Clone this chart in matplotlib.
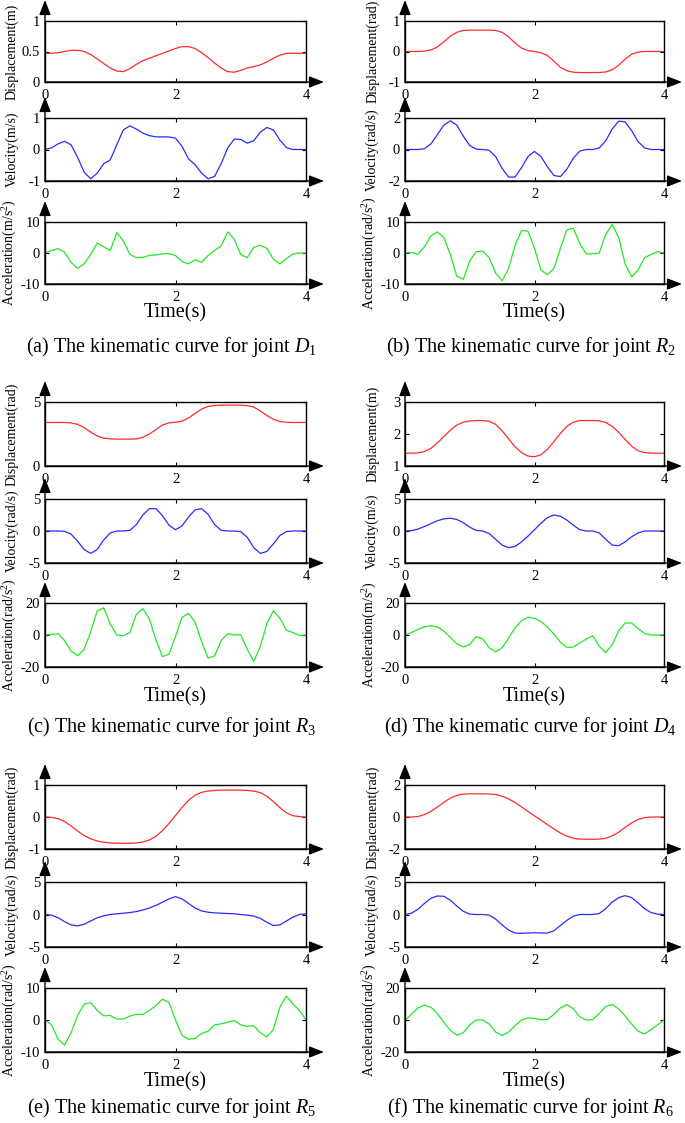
import numpy as np
import matplotlib
matplotlib.use("Agg")
import matplotlib.pyplot as plt

plt.rcParams['font.family'] = ['Liberation Serif', 'DejaVu Serif']
plt.rcParams['mathtext.fontset'] = 'custom'
plt.rcParams['mathtext.rm'] = 'Liberation Serif'
plt.rcParams['mathtext.it'] = 'Liberation Serif:italic'

# time samples (s), 0.1 s step
t = np.linspace(0, 4, 41)

# (a) joint D1
a_disp = [0.47, 0.47, 0.48, 0.50, 0.52, 0.52, 0.50, 0.45, 0.38, 0.30, 0.23, 0.18, 0.17, 0.22,
          0.29, 0.35, 0.39, 0.43, 0.47, 0.51, 0.55, 0.58, 0.58, 0.55, 0.48, 0.40, 0.31, 0.23,
          0.17, 0.16, 0.19, 0.23, 0.25, 0.28, 0.33, 0.39, 0.44, 0.47, 0.47, 0.47, 0.47]
a_vel = [0, 0.05, 0.18, 0.26, 0.15, -0.25, -0.72, -0.93, -0.75, -0.45, -0.33, 0.15, 0.62, 0.75,
         0.65, 0.52, 0.44, 0.40, 0.40, 0.40, 0.36, 0.10, -0.30, -0.48, -0.75, -0.93, -0.85,
         -0.45, 0.05, 0.33, 0.32, 0.20, 0.28, 0.55, 0.70, 0.62, 0.30, 0.06, 0, 0, 0]
a_acc = [0, 0.8, 1.4, 0.3, -3.0, -5.0, -3.5, -0.5, 3.2, 2.0, 0.8, 6.5, 4.0, -0.5, -1.5, -1.4,
         -0.8, -0.6, -0.3, -0.2, -0.8, -2.8, -3.5, -2.2, -3.0, -0.8, 0.8, 2.3, 6.8, 4.5, -0.5,
         -1.5, 1.8, 2.5, 1.5, -2.0, -3.5, -1.8, -0.3, 0, 0]

# (b) joint R2
b_disp = [0, 0, 0, 0.01, 0.05, 0.15, 0.32, 0.50, 0.63, 0.69, 0.70, 0.70, 0.70, 0.70, 0.69,
          0.63, 0.48, 0.28, 0.11, 0.03, 0, -0.04, -0.13, -0.32, -0.52, -0.63, -0.68, -0.69,
          -0.69, -0.69, -0.69, -0.67, -0.60, -0.45, -0.25, -0.09, -0.02, 0, 0, 0, 0]
b_vel = [0, 0, 0, 0.05, 0.35, 0.95, 1.55, 1.82, 1.55, 0.85, 0.25, 0.02, 0, -0.05, -0.45, -1.2,
         -1.75, -1.75, -1.15, -0.45, -0.12, -0.45, -1.1, -1.65, -1.72, -1.25, -0.55, -0.1, 0,
         0, 0.1, 0.55, 1.3, 1.8, 1.75, 1.2, 0.5, 0.1, 0, 0, 0]
b_acc = [0, 0.2, -0.4, 2.0, 5.5, 6.8, 5.0, -0.5, -7.5, -8.5, -2.5, 0.4, 0.6, -1.5, -6.5, -9.0,
         -5.0, 2.5, 7.3, 7.0, 1.5, -5.5, -7.0, -5.0, 1.5, 7.5, 8.0, 3.0, -0.3, -0.3, 0.0, 6.0,
         9.2, 5.0, -3.5, -7.7, -5.5, -1.5, -0.5, 0.4, 0]

# (c) joint R3
c_disp = [3.4, 3.4, 3.4, 3.4, 3.37, 3.25, 3.0, 2.65, 2.35, 2.17, 2.12, 2.1, 2.1, 2.1, 2.12,
          2.25, 2.5, 2.85, 3.2, 3.37, 3.42, 3.5, 3.75, 4.1, 4.45, 4.65, 4.73, 4.75, 4.75, 4.75,
          4.75, 4.72, 4.6, 4.3, 3.95, 3.65, 3.47, 3.42, 3.4, 3.4, 3.4]
c_vel = [0, 0, 0, -0.05, -0.5, -1.6, -2.9, -3.5, -2.9, -1.4, -0.3, 0, 0, 0.1, 1.0, 2.5, 3.5,
         3.5, 2.4, 0.9, 0.2, 0.8, 2.2, 3.3, 3.5, 2.6, 1.0, 0.1, 0, 0, -0.1, -1.0, -2.6, -3.5,
         -3.2, -2.0, -0.7, -0.1, 0, 0, 0]
c_acc = [0, 0.3, 0.8, -3.5, -10, -13, -9, 2, 15, 17, 7, 0, -0.5, 1.5, 13, 16.5, 10, -3, -13.5,
         -12, -1, 11, 13.5, 8, -4, -14.5, -13, -3.5, 0.8, 0, 0.2, -9, -16.5, -7, 7, 15.2,
         10.5, 3.0, 1.5, -0.3, 0]

# (d) joint D4
d_disp = [1.40, 1.40, 1.41, 1.45, 1.55, 1.72, 1.92, 2.12, 2.28, 2.37, 2.41, 2.42, 2.42, 2.40,
          2.30, 2.10, 1.85, 1.60, 1.42, 1.31, 1.29, 1.35, 1.52, 1.76, 2.02, 2.24, 2.37, 2.42,
          2.42, 2.42, 2.41, 2.36, 2.24, 2.05, 1.83, 1.62, 1.48, 1.42, 1.40, 1.40, 1.40]
d_vel = [0, 0.05, 0.3, 0.7, 1.15, 1.6, 1.9, 2.0, 1.8, 1.3, 0.6, 0.1, 0, -0.4, -1.3, -2.2, -2.6,
         -2.4, -1.7, -0.8, 0.2, 1.2, 2.1, 2.5, 2.3, 1.7, 0.9, 0.2, 0, 0, -0.3, -1.3, -2.2, -2.3,
         -1.7, -0.9, -0.3, 0, 0, 0, 0]
d_acc = [0, 1.5, 3.5, 5.2, 5.8, 5.0, 2.5, -1.5, -5.5, -7.4, -6, -1, -2.5, -8, -10.5, -8, -2,
         4.5, 9, 11, 10.5, 8.5, 5, 0.5, -4.5, -7.8, -7.5, -5, -2.5, -0.5, -7, -11, -6, 2.5,
         7.5, 7.5, 4, 1, 0, 0, 0]

# (e) joint R5
e_disp = [0, -0.01, -0.05, -0.14, -0.28, -0.44, -0.58, -0.68, -0.75, -0.79, -0.81, -0.82,
          -0.82, -0.82, -0.81, -0.78, -0.72, -0.60, -0.43, -0.20, 0.05, 0.30, 0.52, 0.68, 0.77,
          0.81, 0.83, 0.84, 0.84, 0.84, 0.84, 0.83, 0.81, 0.76, 0.65, 0.48, 0.29, 0.13, 0.04,
          0.01, 0]
e_vel = [0, -0.1, -0.5, -1.1, -1.6, -1.75, -1.5, -1.0, -0.5, -0.2, 0, 0.1, 0.2, 0.3, 0.45, 0.7,
         1.0, 1.4, 1.9, 2.4, 2.75, 2.4, 1.7, 1.0, 0.55, 0.35, 0.25, 0.2, 0.15, 0.1, 0, -0.1,
         -0.25, -0.6, -1.2, -1.7, -1.6, -1.0, -0.4, 0, 0.1]
e_acc = [0, -1.5, -6, -7.8, -4, 1.5, 5.0, 5.4, 3.0, 1.3, 1.4, 0.3, 0.3, 1.2, 1.8, 1.7, 3.0,
         4.5, 6.5, 5.5, 0, -4.8, -6.0, -5.8, -4.2, -3.5, -1.5, -1.2, -0.7, -0.2, -1.5, -2.0,
         -1.8, -4.0, -5.3, -3.0, 4.0, 7.5, 5.0, 3.0, 0]

# (f) joint R6
f_disp = [0, 0, 0.03, 0.15, 0.35, 0.62, 0.92, 1.18, 1.35, 1.43, 1.45, 1.45, 1.45, 1.44, 1.40,
          1.30, 1.13, 0.90, 0.63, 0.35, 0.07, -0.20, -0.48, -0.75, -1.0, -1.2, -1.33, -1.38,
          -1.39, -1.39, -1.38, -1.33, -1.18, -0.95, -0.65, -0.37, -0.15, -0.04, 0, 0, 0]
f_vel = [0, 0.2, 0.8, 1.7, 2.5, 2.85, 2.8, 2.2, 1.3, 0.5, 0.05, 0, 0, -0.1, -0.7, -1.6, -2.4,
         -2.85, -2.9, -2.85, -2.8, -2.85, -2.85, -2.5, -1.7, -0.9, -0.25, 0, 0, 0, 0.15, 0.9,
         1.9, 2.6, 2.9, 2.6, 1.8, 0.9, 0.3, 0.05, 0]
f_acc = [0, 3.5, 7.5, 9.3, 8, 4, -1.5, -6.5, -9.5, -8, -3, 0, 0, -2.5, -7.5, -9.7, -7.5, -3.5,
         0, 1.3, 1.0, 0.2, 0.3, 3.5, 7.5, 9.7, 7, 2, 0, 0.2, 4.0, 8.5, 9.7, 7, 2.5, -2.5, -7,
         -8.7, -6, -3, 0]

panels = [
    ("(a) The kinematic curve for joint $D_{\\mathit{1}}$", "m",
     [a_disp, a_vel, a_acc], [[0, 0.5, 1], [-1, 0, 1], [-10, 0, 10]]),
    ("(b) The kinematic curve for joint $R_{\\mathit{2}}$", "rad",
     [b_disp, b_vel, b_acc], [[-1, 0, 1], [-2, 0, 2], [-10, 0, 10]]),
    ("(c) The kinematic curve for joint $R_{\\mathit{3}}$", "rad",
     [c_disp, c_vel, c_acc], [[0, 5], [-5, 0, 5], [-20, 0, 20]]),
    ("(d) The kinematic curve for joint $D_{\\mathit{4}}$", "m",
     [d_disp, d_vel, d_acc], [[1, 2, 3], [-5, 0, 5], [-20, 0, 20]]),
    ("(e) The kinematic curve for joint $R_{\\mathit{5}}$", "rad",
     [e_disp, e_vel, e_acc], [[-1, 0, 1], [-5, 0, 5], [-10, 0, 10]]),
    ("(f) The kinematic curve for joint $R_{\\mathit{6}}$", "rad",
     [f_disp, f_vel, f_acc], [[-2, 0, 2], [-5, 0, 5], [-20, 0, 20]]),
]

colors = ['#ff2a2a', '#2a2aff', '#22e822']
W, H = 685, 1123
cols = [(45, 306), (405, 664)]
box_tops = [[21, 118, 222], [402, 499, 603], [785, 882, 988]]
box_bots = [[82, 181, 284], [466, 563, 667], [849, 947, 1052]]
time_y = [313, 697, 1082]
cap_y = [347, 727, 1108]

fig = plt.figure(figsize=(W / 100, H / 100), dpi=100)

for k, (caption, unit, series, ticks) in enumerate(panels):
    grp, col = k // 2, k % 2
    L, R = cols[col]
    labels = ['Displacement(%s)' % unit, 'Velocity(%s/s)' % unit,
              'Acceleration(%s/s$^2$)' % unit]
    for i in range(3):
        top, bot = box_tops[grp][i], box_bots[grp][i]
        ax = fig.add_axes([L / W, 1 - bot / H, (R - L) / W, (bot - top) / H])
        ax.plot(t, series[i], color=colors[i], lw=0.9, solid_joinstyle='round')
        ax.set_xlim(0, 4)
        ax.set_ylim(ticks[i][0], ticks[i][-1])
        ax.set_xticks([0, 2, 4])
        ax.set_yticks(ticks[i])
        ax.set_yticklabels([('%g' % v) for v in ticks[i]])
        ax.tick_params(direction='in', length=3, top=True, right=True, labelsize=10.5,
                       width=0.8)
        ax.tick_params(axis='x', pad=5)
        for s in ax.spines.values():
            s.set_linewidth(1.0)
        ax.set_ylabel(labels[i], fontsize=10)
        ax.yaxis.set_label_coords(-0.1, 0.5)
        # arrow axes
        hh = bot - top
        ww = R - L
        ap = dict(arrowstyle='-|>,head_length=0.9,head_width=0.35', color='k', lw=1.0,
                  shrinkA=0, shrinkB=0, mutation_scale=10)
        ax.annotate('', xy=(0, 1 + 21 / hh), xytext=(0, 0), xycoords='axes fraction',
                    arrowprops=ap, annotation_clip=False)
        ax.annotate('', xy=(1 + 18 / ww, 0), xytext=(0, 0), xycoords='axes fraction',
                    arrowprops=ap, annotation_clip=False)
    fig.text((L + R) / 2 / W, 1 - time_y[grp] / H, 'Time(s)', ha='center', va='center',
             fontsize=14.5)
    fig.text((L + R) / 2 / W - 4 / W, 1 - cap_y[grp] / H, caption, ha='center', va='center',
             fontsize=14.5)

fig.savefig('out.png', dpi=100)
